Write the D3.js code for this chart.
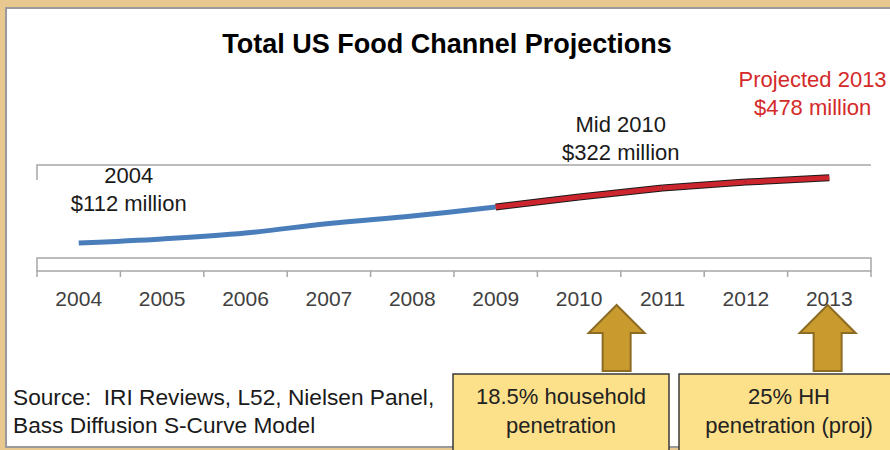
<!DOCTYPE html>
<html>
<head>
<meta charset="utf-8">
<script src="https://cdn.jsdelivr.net/npm/d3@7"></script>
<style>
    body { margin: 0; background: #e8c88e; }
    svg { display: block; font-family: "Liberation Sans", Arial, sans-serif; }
</style>
</head>
<body>
<svg id="chart" width="890" height="450"></svg>
<script>
// data ($ million)
const years = [2004, 2005, 2006, 2007, 2008, 2009, 2010, 2011, 2012, 2013];
const actualYears = [2004, 2005, 2006, 2007, 2008, 2009];
const actualValues = [112, 135, 168, 222, 264, 314];
const projYears = [2009, 2010, 2011, 2012, 2013];
const projValues = [314, 370, 421, 454, 478];

const callouts = [
    {lines: ["2004", "$112 million"], x: 2004.6, top: 183, color: "#1a1a1a"},
    {lines: ["Mid 2010", "$322 million"], x: 2010.5, top: 132, color: "#1a1a1a"},
    {lines: ["Projected 2013", "$478 million"], x: 2012.8, top: 87, color: "#d42a2a"}
];
const arrowYears = [2010.45, 2012.98];
const boxTexts = [
    ["18.5% household", "penetration"],
    ["25% HH", "penetration (proj)"]
];
const sourceLines = ["Source:  IRI Reviews, L52, Nielsen Panel,", "Bass Diffusion S-Curve Model"];

const svg = d3.select("#chart");

// white slide panel
svg.append("rect")
    .attr("x", 6).attr("y", 8)
    .attr("width", 900).attr("height", 439)
    .attr("fill", "#fff")
    .attr("stroke", "#9a9a9a")
    .attr("stroke-width", 2);

svg.append("text")
    .attr("x", 447).attr("y", 53)
    .attr("text-anchor", "middle")
    .style("font-size", "27px")
    .style("font-weight", "bold")
    .text("Total US Food Channel Projections");

// scales
const x = d3.scaleBand()
    .domain(years)
    .range([37, 871]);

const xc = d => x(Math.floor(d)) + x.bandwidth() * (0.5 + d - Math.floor(d));

const y = d3.scaleLinear()
    .domain([0, 550])
    .range([263, 165]);

// plot frame
const frame = svg.append("g")
    .attr("stroke", "#a6a6a6")
    .attr("stroke-width", 1.5)
    .attr("fill", "none");
frame.append("path")
    .attr("d", "M37,180V165H871");
frame.append("rect")
    .attr("x", 37).attr("y", 258)
    .attr("width", 834).attr("height", 13);

// x axis: labels at band centers, ticks on band edges
const xAxis = svg.append("g")
    .attr("transform", "translate(0,271)")
    .call(d3.axisBottom(x).tickSize(0).tickPadding(0));
xAxis.select(".domain").remove();
xAxis.selectAll("text")
    .attr("y", 35)
    .attr("dy", 0)
    .attr("fill", "#404040")
    .style("font-size", "21px")
    .style("font-family", "Liberation Sans, Arial, sans-serif");

svg.append("g")
    .selectAll("line")
    .data(years.map(d => x(d)).concat([x.range()[1]]))
    .join("line")
    .attr("x1", d => d).attr("x2", d => d)
    .attr("y1", 271).attr("y2", 277)
    .attr("stroke", "#a6a6a6")
    .attr("stroke-width", 1.5);

// actual series
const line = d3.line()
    .x(d => xc(d[0]))
    .y(d => y(d[1]))
    .curve(d3.curveCatmullRom);

svg.append("path")
    .datum(actualYears.map((d, i) => [d, actualValues[i]]))
    .attr("d", line)
    .attr("fill", "none")
    .attr("stroke", "#4a7ebb")
    .attr("stroke-width", 5);

// projected series, one outlined segment per year
const projPts = projYears.map((d, i) => [d, projValues[i]]);
const segLine = d3.line().x(d => xc(d[0])).y(d => y(d[1]));
const projG = svg.append("g").attr("fill", "none");
d3.pairs(projPts).forEach(s => {
    projG.append("path")
        .attr("d", segLine(s))
        .attr("stroke", "#1a1a1a")
        .attr("stroke-width", 7);
    projG.append("path")
        .attr("d", segLine(s))
        .attr("stroke", "#cc252d")
        .attr("stroke-width", 5);
});

// callout labels
svg.append("g")
    .selectAll("text")
    .data(callouts)
    .join("text")
    .attr("text-anchor", "middle")
    .attr("fill", d => d.color)
    .style("font-size", "22px")
    .each(function(d) {
        d3.select(this).selectAll("tspan")
            .data(d.lines)
            .join("tspan")
            .attr("x", xc(d.x))
            .attr("y", (t, j) => d.top + j * 28)
            .text(t => t);
    });

// arrows
svg.append("g")
    .selectAll("path")
    .data(arrowYears)
    .join("path")
    .attr("transform", d => "translate(" + xc(d) + ",305)")
    .attr("d", "M0,0L28,28H14V66H-14V28H-28Z")
    .attr("fill", "#c99a2e")
    .attr("stroke", "#8c6b22")
    .attr("stroke-width", 2);

// penetration boxes
const boxX = [[453, 669], [679, 900]];
const boxes = svg.append("g")
    .selectAll("g")
    .data(boxTexts)
    .join("g");
boxes.append("rect")
    .attr("x", (d, i) => boxX[i][0])
    .attr("y", 374)
    .attr("width", (d, i) => boxX[i][1] - boxX[i][0])
    .attr("height", 80)
    .attr("fill", "#fce08a")
    .attr("stroke", "#3a3a3a")
    .attr("stroke-width", 1.5);
boxes.append("text")
    .attr("text-anchor", "middle")
    .attr("fill", "#222")
    .style("font-size", "22px")
    .selectAll("tspan")
    .data((d, i) => d.map(t => ({t: t, cx: i === 0 ? 561 : 789})))
    .join("tspan")
    .attr("x", d => d.cx)
    .attr("y", (d, j) => 404 + j * 29)
    .text(d => d.t);

// source note
svg.append("text")
    .attr("fill", "#1a1a1a")
    .style("font-size", "22.7px")
    .style("white-space", "pre")
    .selectAll("tspan")
    .data(sourceLines)
    .join("tspan")
    .attr("x", 13)
    .attr("y", (d, i) => 405 + i * 28)
    .text(d => d);
</script>
</body>
</html>
